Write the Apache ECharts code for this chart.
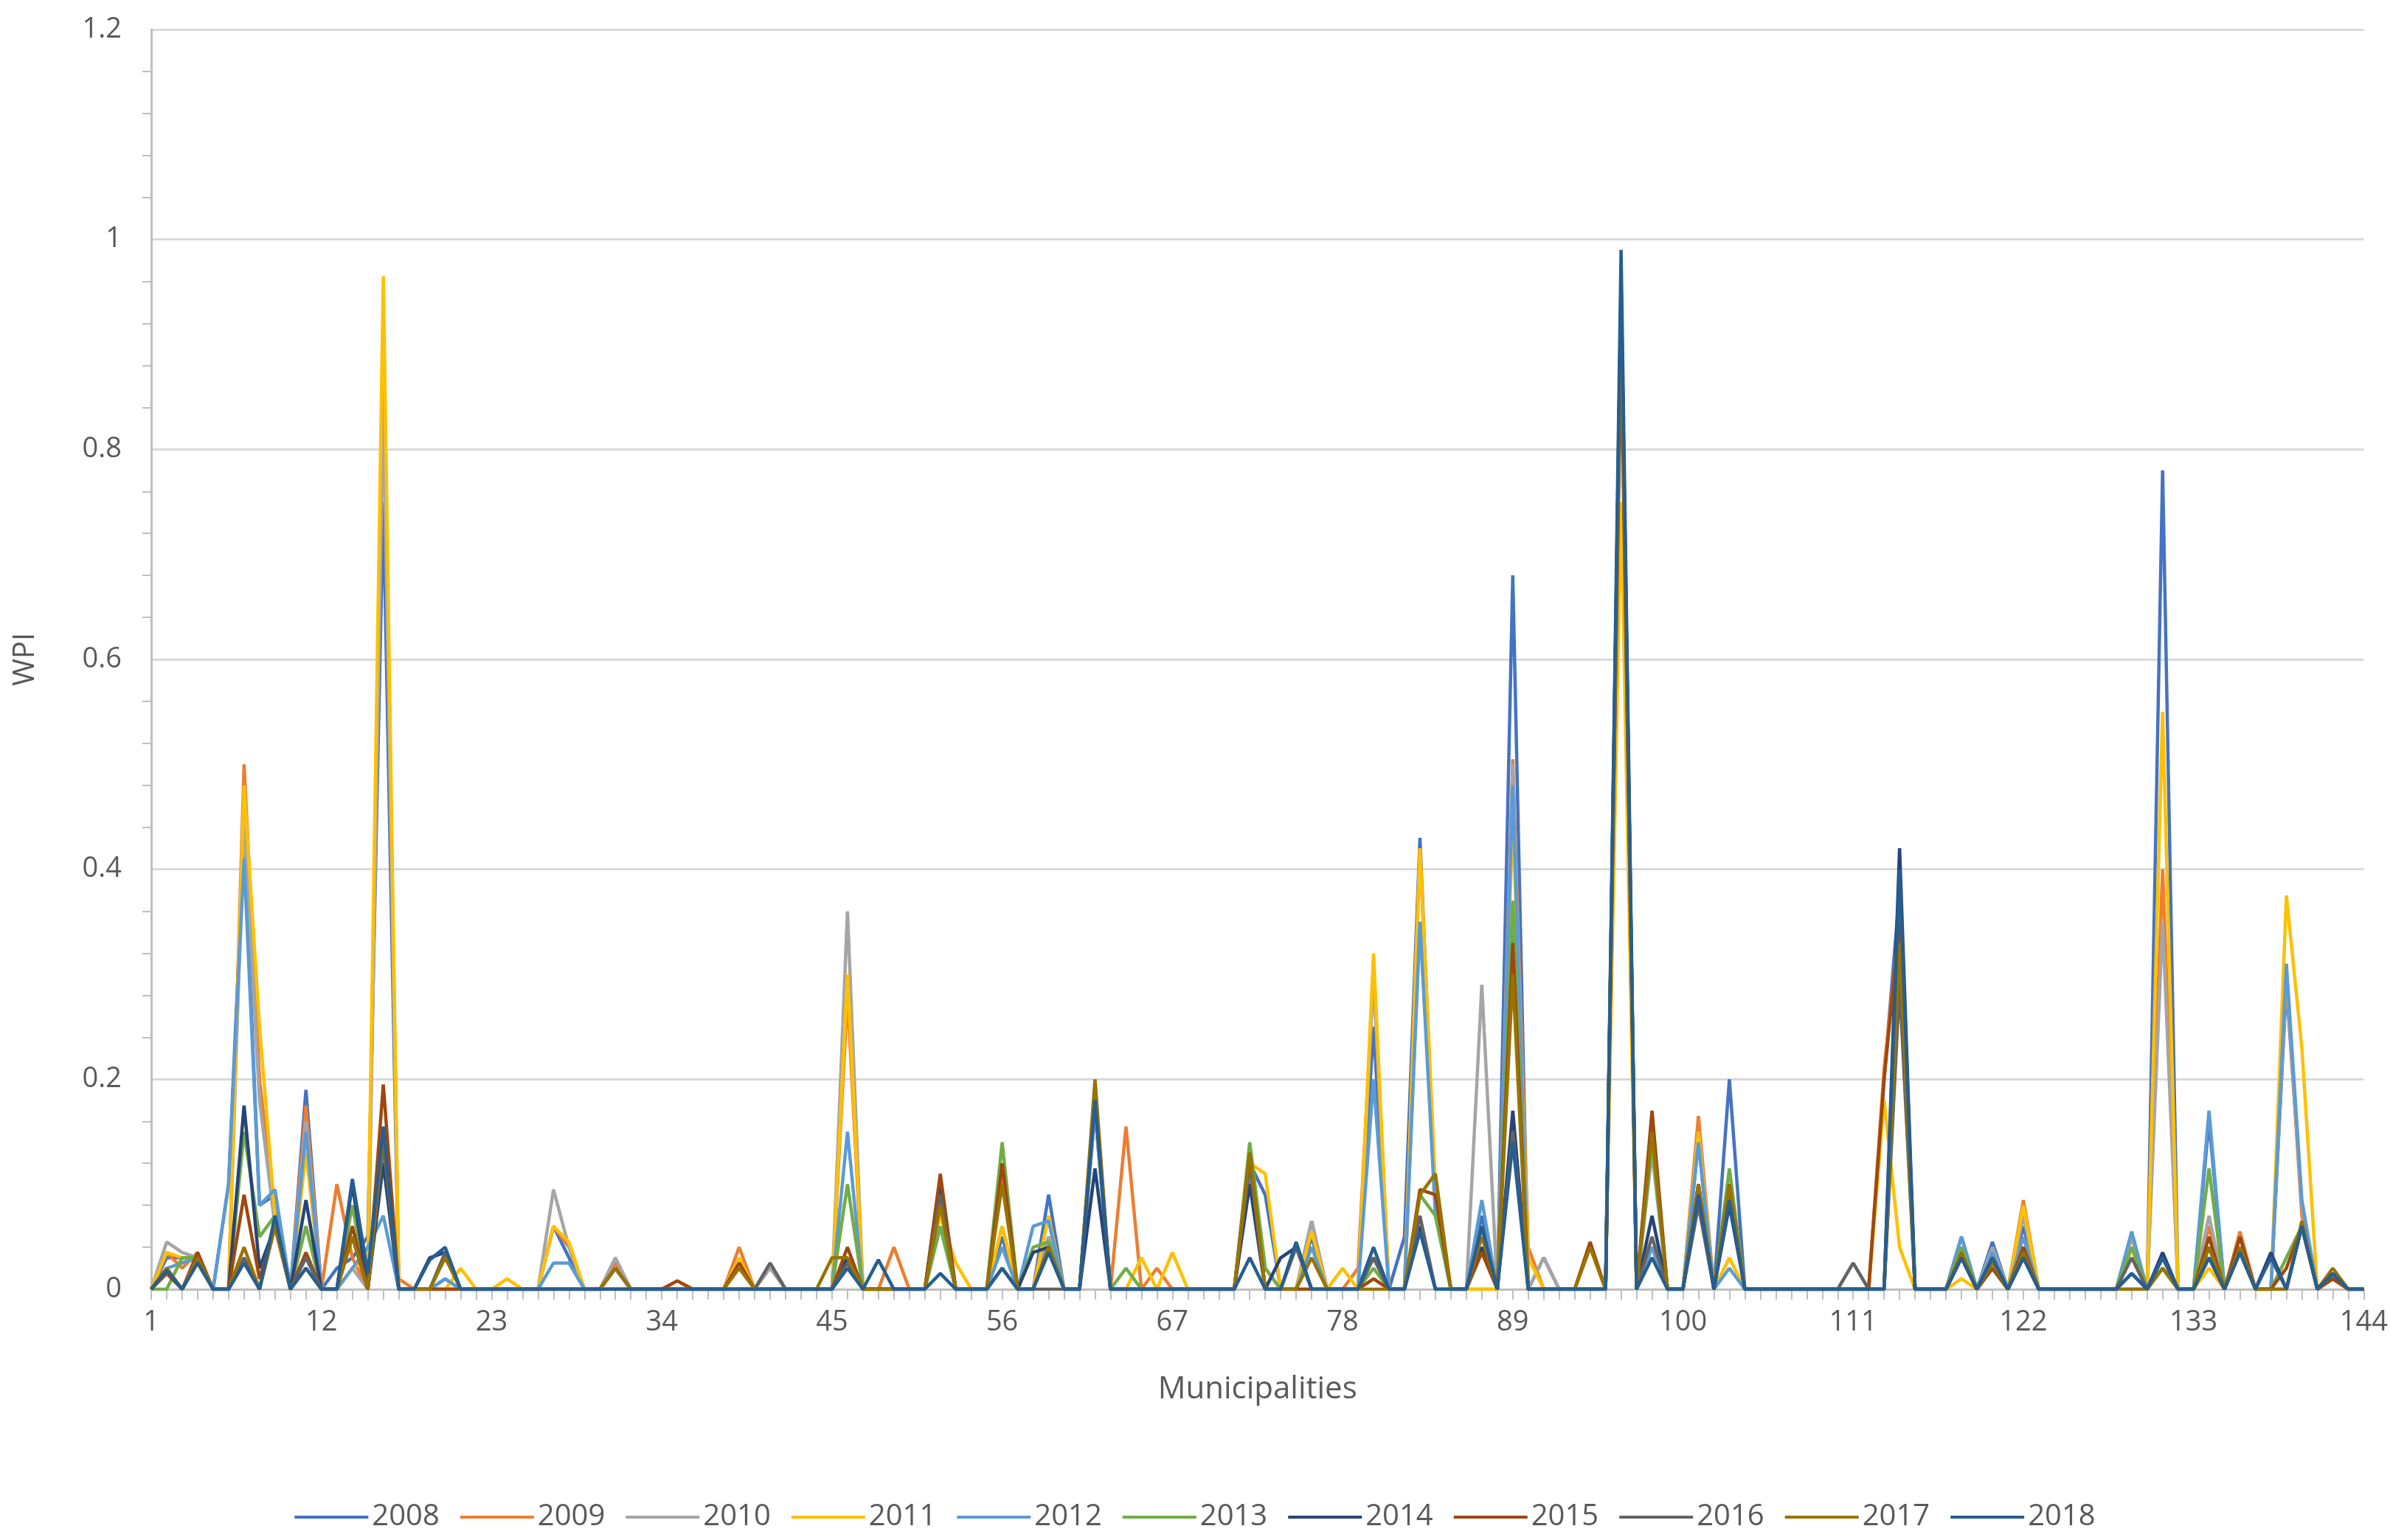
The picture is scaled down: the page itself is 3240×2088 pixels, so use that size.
<!DOCTYPE html>
<html><head><meta charset="utf-8">
<script src="https://cdn.jsdelivr.net/npm/echarts@6/dist/echarts.min.js"></script>
<style>html,body{margin:0;padding:0;background:#fff}</style>
</head><body>
<div id="chart" style="width:3240px;height:2088px"></div>
<script>
// municipalities 1..144
const municipalities = [];
for (let i = 1; i <= 144; i++) municipalities.push(String(i));

const years = ['2008','2009','2010','2011','2012','2013','2014','2015','2016','2017','2018'];
const colors = ['#4472C4','#ED7D31','#A5A5A5','#FFC000','#5B9BD5','#70AD47','#264478','#9E480E','#636363','#997300','#255E91'];

// non-zero readings per year: [municipality, WPI]; every other municipality is 0
const y2008 = [[2,0.03],[3,0.03],[4,0.03],[6,0.1],[7,0.43],[8,0.08],[9,0.09],[11,0.19],[13,0.02],[14,0.03],[15,0.05],[16,0.75],[20,0.01],[27,0.06],[28,0.03],[31,0.02],[46,0.3],[52,0.08],[56,0.05],[59,0.09],[62,0.17],[72,0.12],[73,0.09],[76,0.05],[80,0.25],[82,0.05],[83,0.43],[84,0.08],[87,0.07],[89,0.68],[91,0.03],[96,0.95],[98,0.04],[101,0.14],[103,0.2],[113,0.2],[114,0.38],[118,0.05],[120,0.045],[122,0.06],[129,0.05],[131,0.78],[134,0.16],[136,0.05],[139,0.29],[140,0.08],[142,0.01]];
const y2009 = [[2,0.035],[3,0.02],[4,0.035],[7,0.5],[8,0.2],[9,0.07],[11,0.175],[13,0.1],[14,0.03],[16,0.9],[17,0.01],[27,0.06],[28,0.04],[31,0.025],[35,0.008],[39,0.04],[46,0.28],[49,0.04],[52,0.1],[56,0.11],[59,0.05],[62,0.18],[64,0.155],[66,0.02],[72,0.13],[73,0.02],[76,0.065],[79,0.02],[80,0.3],[83,0.42],[84,0.08],[89,0.505],[90,0.04],[94,0.04],[96,0.92],[98,0.16],[101,0.165],[103,0.09],[113,0.21],[114,0.35],[118,0.03],[120,0.03],[122,0.085],[129,0.04],[131,0.4],[134,0.06],[136,0.055],[139,0.3],[140,0.07],[142,0.015]];
const y2010 = [[2,0.045],[3,0.035],[4,0.03],[7,0.45],[8,0.18],[9,0.06],[11,0.16],[14,0.02],[16,0.85],[27,0.095],[28,0.04],[31,0.03],[41,0.02],[46,0.36],[52,0.09],[56,0.06],[59,0.05],[62,0.18],[72,0.12],[76,0.065],[80,0.3],[83,0.35],[84,0.09],[87,0.29],[89,0.5],[91,0.03],[96,0.93],[98,0.13],[101,0.15],[103,0.1],[114,0.3],[118,0.04],[120,0.04],[122,0.07],[129,0.05],[131,0.35],[134,0.07],[136,0.05],[139,0.3],[140,0.08],[142,0.01]];
const y2011 = [[2,0.035],[3,0.03],[4,0.025],[7,0.48],[8,0.25],[9,0.07],[11,0.13],[14,0.02],[15,0.03],[16,0.965],[21,0.02],[24,0.01],[27,0.06],[28,0.045],[39,0.03],[46,0.3],[52,0.07],[53,0.025],[56,0.06],[59,0.07],[60,0.0],[62,0.17],[65,0.03],[67,0.035],[72,0.12],[73,0.11],[76,0.055],[78,0.02],[80,0.32],[83,0.42],[84,0.1],[89,0.45],[90,0.03],[94,0.04],[96,0.75],[98,0.04],[101,0.15],[103,0.03],[113,0.18],[114,0.04],[118,0.01],[120,0.02],[122,0.08],[129,0.04],[131,0.55],[134,0.02],[136,0.04],[139,0.375],[140,0.23],[142,0.01]];
const y2012 = [[2,0.02],[3,0.025],[4,0.03],[6,0.1],[7,0.41],[8,0.08],[9,0.095],[11,0.15],[14,0.02],[15,0.04],[16,0.07],[20,0.01],[27,0.025],[28,0.025],[46,0.15],[52,0.06],[56,0.04],[58,0.06],[59,0.065],[62,0.17],[72,0.11],[76,0.04],[80,0.2],[83,0.35],[84,0.07],[87,0.085],[89,0.48],[96,0.96],[98,0.04],[101,0.14],[103,0.02],[114,0.32],[118,0.05],[120,0.035],[122,0.05],[129,0.055],[131,0.03],[134,0.17],[136,0.04],[139,0.31],[140,0.085],[142,0.012]];
const y2013 = [[3,0.03],[4,0.03],[7,0.15],[8,0.05],[9,0.07],[11,0.06],[14,0.08],[16,0.13],[46,0.1],[52,0.06],[56,0.14],[58,0.04],[59,0.045],[60,0.0],[62,0.19],[64,0.02],[72,0.14],[73,0.02],[74,0.0],[80,0.02],[83,0.09],[84,0.07],[87,0.06],[89,0.37],[96,0.95],[98,0.14],[101,0.1],[103,0.115],[114,0.35],[118,0.04],[120,0.03],[122,0.04],[129,0.04],[131,0.02],[134,0.115],[136,0.04],[139,0.03],[140,0.06],[142,0.015]];
const y2014 = [[2,0.018],[4,0.028],[7,0.175],[8,0.02],[9,0.06],[11,0.085],[14,0.1],[16,0.12],[19,0.03],[20,0.035],[46,0.03],[52,0.1],[56,0.02],[58,0.035],[59,0.04],[62,0.115],[72,0.1],[73,0.0],[74,0.03],[75,0.04],[80,0.03],[83,0.06],[87,0.04],[89,0.17],[96,0.96],[98,0.07],[101,0.09],[103,0.08],[114,0.42],[118,0.03],[120,0.02],[122,0.03],[129,0.015],[131,0.035],[134,0.04],[136,0.035],[138,0.035],[140,0.06],[142,0.015]];
const y2015 = [[2,0.015],[4,0.035],[7,0.09],[8,0.01],[9,0.06],[11,0.035],[14,0.06],[16,0.195],[31,0.02],[35,0.008],[39,0.025],[46,0.04],[52,0.11],[56,0.12],[59,0.04],[62,0.19],[72,0.13],[80,0.01],[83,0.095],[84,0.09],[87,0.035],[89,0.33],[94,0.045],[96,0.9],[98,0.17],[101,0.1],[103,0.1],[113,0.2],[114,0.35],[118,0.03],[120,0.02],[122,0.04],[131,0.02],[134,0.05],[136,0.05],[139,0.02],[140,0.06],[142,0.01]];
const y2016 = [[2,0.02],[4,0.03],[7,0.03],[9,0.06],[11,0.03],[14,0.05],[16,0.14],[20,0.035],[31,0.02],[41,0.025],[46,0.025],[52,0.09],[56,0.02],[62,0.18],[72,0.12],[75,0.04],[80,0.03],[83,0.07],[87,0.06],[89,0.15],[96,0.92],[98,0.05],[101,0.08],[103,0.09],[111,0.025],[114,0.29],[118,0.03],[120,0.03],[122,0.03],[129,0.03],[131,0.03],[134,0.03],[136,0.04],[140,0.06],[142,0.015]];
const y2017 = [[2,0.02],[4,0.03],[7,0.04],[9,0.06],[11,0.02],[14,0.05],[16,0.15],[20,0.03],[31,0.02],[39,0.02],[45,0.03],[46,0.03],[52,0.08],[56,0.1],[59,0.04],[62,0.2],[72,0.13],[76,0.03],[83,0.09],[84,0.11],[87,0.05],[89,0.3],[94,0.04],[96,0.95],[98,0.15],[101,0.1],[103,0.1],[114,0.33],[118,0.035],[120,0.025],[122,0.035],[131,0.02],[134,0.04],[136,0.04],[140,0.065],[142,0.02]];
const y2018 = [[2,0.018],[4,0.025],[7,0.025],[9,0.07],[11,0.02],[14,0.105],[15,0.015],[16,0.155],[19,0.028],[20,0.04],[46,0.02],[48,0.028],[52,0.015],[56,0.02],[59,0.035],[62,0.18],[72,0.03],[75,0.045],[80,0.04],[83,0.055],[87,0.06],[89,0.14],[96,0.99],[98,0.03],[101,0.09],[103,0.085],[114,0.4],[118,0.03],[120,0.03],[122,0.03],[129,0.015],[131,0.03],[134,0.03],[136,0.035],[138,0.03],[140,0.06],[142,0.015]];

const readings = [y2008,y2009,y2010,y2011,y2012,y2013,y2014,y2015,y2016,y2017,y2018];

function toSeries(pairs) {
  const arr = new Array(144).fill(0);
  pairs.forEach(p => { arr[p[0] - 1] = p[1]; });
  return arr;
}

const series = years.map((y, i) => ({
  name: y,
  type: 'line',
  data: toSeries(readings[i]),
  symbol: 'none',
  lineStyle: { width: 4.5, color: colors[i] },
  itemStyle: { color: colors[i] }
}));

const chart = echarts.init(document.getElementById('chart'));
chart.setOption({
  animation: false,
  color: colors,
  textStyle: { fontFamily: 'Open Sans, Liberation Sans, sans-serif' },
  grid: { left: 205, right: 35, top: 40, bottom: 340 },
  legend: {
    bottom: 6,
    left: 'center',
    itemWidth: 100,
    itemHeight: 4,
    itemGap: 28,
    icon: 'rect',
    textStyle: { fontSize: 40, color: '#595959' },
    data: years
  },
  xAxis: {
    type: 'category',
    data: municipalities,
    boundaryGap: false,
    name: 'Municipalities',
    nameLocation: 'middle',
    nameGap: 115,
    nameTextStyle: { fontSize: 42, color: '#595959' },
    axisLine: { lineStyle: { color: '#bfbfbf', width: 3 } },
    axisTick: { show: true, interval: 0, length: 14, lineStyle: { color: '#bfbfbf', width: 2 } },
    axisLabel: { interval: 10, fontSize: 38, color: '#595959', margin: 26 },
    splitLine: { show: false }
  },
  yAxis: {
    type: 'value',
    min: 0,
    max: 1.2,
    interval: 0.2,
    name: 'WPI',
    nameLocation: 'middle',
    nameRotate: 90,
    nameGap: 150,
    nameTextStyle: { fontSize: 40, color: '#595959' },
    axisLine: { show: true, lineStyle: { color: '#bfbfbf', width: 3 } },
    axisTick: { show: false },
    minorTick: { show: true, splitNumber: 5, length: 12, lineStyle: { color: '#bfbfbf', width: 2 } },
    axisLabel: { fontSize: 38, color: '#595959', margin: 40 },
    splitLine: { lineStyle: { color: '#d9d9d9', width: 3 } }
  },
  series: series
});
</script>
</body></html>
